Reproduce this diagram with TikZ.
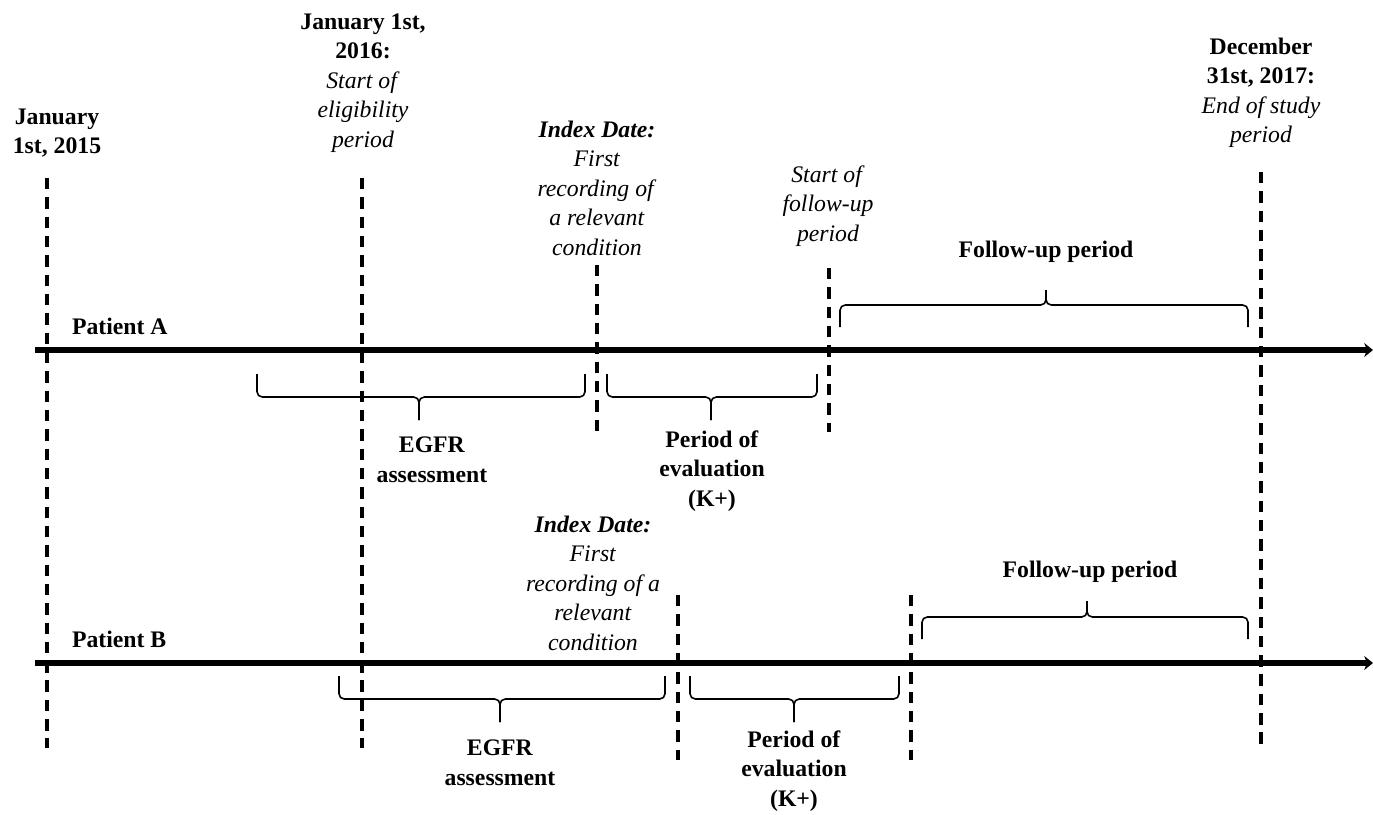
\documentclass[tikz,border=0pt]{standalone}
\usepackage{fontspec}
\setmainfont{Liberation Serif}
\usepackage{tikz}
\usetikzlibrary{arrows.meta,positioning}

% left x, right x, tip x, end y, bar y, tip y
\newcommand{\spanbrace}[6]{%
  \draw[bracestyle] (#1,#4) -- (#1,#5) -- (#3,#5) -- (#3,#6);
  \draw[bracestyle] (#2,#4) -- (#2,#5) -- (#3,#5) -- (#3,#6);}

\begin{document}
\begin{tikzpicture}[x=0.02cm, y=-0.02cm,
    every node/.style={font=\fontsize{13.5}{16.8}\selectfont, align=center, inner sep=1pt},
    timeline/.style={line width=3.4pt, -{Stealth[length=5pt,width=8pt]}},
    marker/.style={line width=1.9pt, dash pattern=on 6.5pt off 4.5pt},
    bracestyle/.style={line width=0.9pt, rounded corners=3pt}]
    \useasboundingbox (0,0) rectangle (1373,815);

    % dates
    \node (start) at (57,133) {\textbf{January}\\\textbf{1st, 2015}};
    \node (elig) at (363,83) {\textbf{January 1st,}\\\textbf{2016:}\\\textit{Start of}\\\textit{eligibility}\\\textit{period}};
    \node (stop) at (1261,93) {\textbf{December}\\\textbf{31st, 2017:}\\\textit{End of study}\\\textit{period}};

    \coordinate (start top) at (47,178);   \coordinate (start bot) at (47,748);
    \coordinate (elig top) at (362,178);   \coordinate (elig bot) at (362,748);
    \coordinate (stop top) at (1261,172);  \coordinate (stop bot) at (1261,748);
    \draw[marker] (start top) -- (start bot);
    \draw[marker] (elig top) -- (elig bot);
    \draw[marker] (stop top) -- (stop bot);

    % patient A
    \node[anchor=base west] (patA) at (70,334) {\textbf{Patient A}};
    \coordinate (patA start) at (35,350);
    \coordinate (patA end) at (1373,350);
    \draw[timeline] (patA start) -- (patA end);

    \node (indexA) at (597,188) {\textbf{\textit{Index Date:}}\\\textit{First}\\\textit{recording of}\\\textit{a relevant}\\\textit{condition}};
    \node (fuA) at (828,206) {\textit{Start of}\\\textit{follow-up}\\\textit{period}};
    \coordinate (indexA top) at (597,265); \coordinate (indexA bot) at (597,432);
    \coordinate (fuA top) at (829,268);    \coordinate (fuA bot) at (829,432);
    \draw[marker] (indexA top) -- (indexA bot);
    \draw[marker] (fuA top) -- (fuA bot);

    \spanbrace{840}{1248}{1046}{327}{305}{290}
    \node (fuperA) at (1046,252) {\textbf{Follow-up period}};
    \spanbrace{257}{585}{419}{374}{397}{420}
    \node (egfrA) at (432,460) {\textbf{EGFR}\\\textbf{assessment}};
    \spanbrace{607}{817}{711}{374}{397}{420}
    \node (evalA) at (712,471) {\textbf{Period of}\\\textbf{evaluation}\\\textbf{(K+)}};

    % patient B
    \node[anchor=base west] (patB) at (70,647) {\textbf{Patient B}};
    \coordinate (patB start) at (35,663);
    \coordinate (patB end) at (1373,663);
    \draw[timeline] (patB start) -- (patB end);

    \node (indexB) at (593,583) {\textbf{\textit{Index Date:}}\\\textit{First}\\\textit{recording of a}\\\textit{relevant}\\\textit{condition}};
    \coordinate (indexB top) at (678,595); \coordinate (indexB bot) at (678,760);
    \coordinate (fuB top) at (911,595);    \coordinate (fuB bot) at (911,760);
    \draw[marker] (indexB top) -- (indexB bot);
    \draw[marker] (fuB top) -- (fuB bot);

    \spanbrace{922}{1248}{1087}{639}{617}{601}
    \node (fuperB) at (1090,572) {\textbf{Follow-up period}};
    \spanbrace{339}{665}{500}{676}{699}{722}
    \node (egfrB) at (500,763) {\textbf{EGFR}\\\textbf{assessment}};
    \spanbrace{690}{899}{794}{676}{699}{722}
    \node (evalB) at (794,771) {\textbf{Period of}\\\textbf{evaluation}\\\textbf{(K+)}};
\end{tikzpicture}
\end{document}
